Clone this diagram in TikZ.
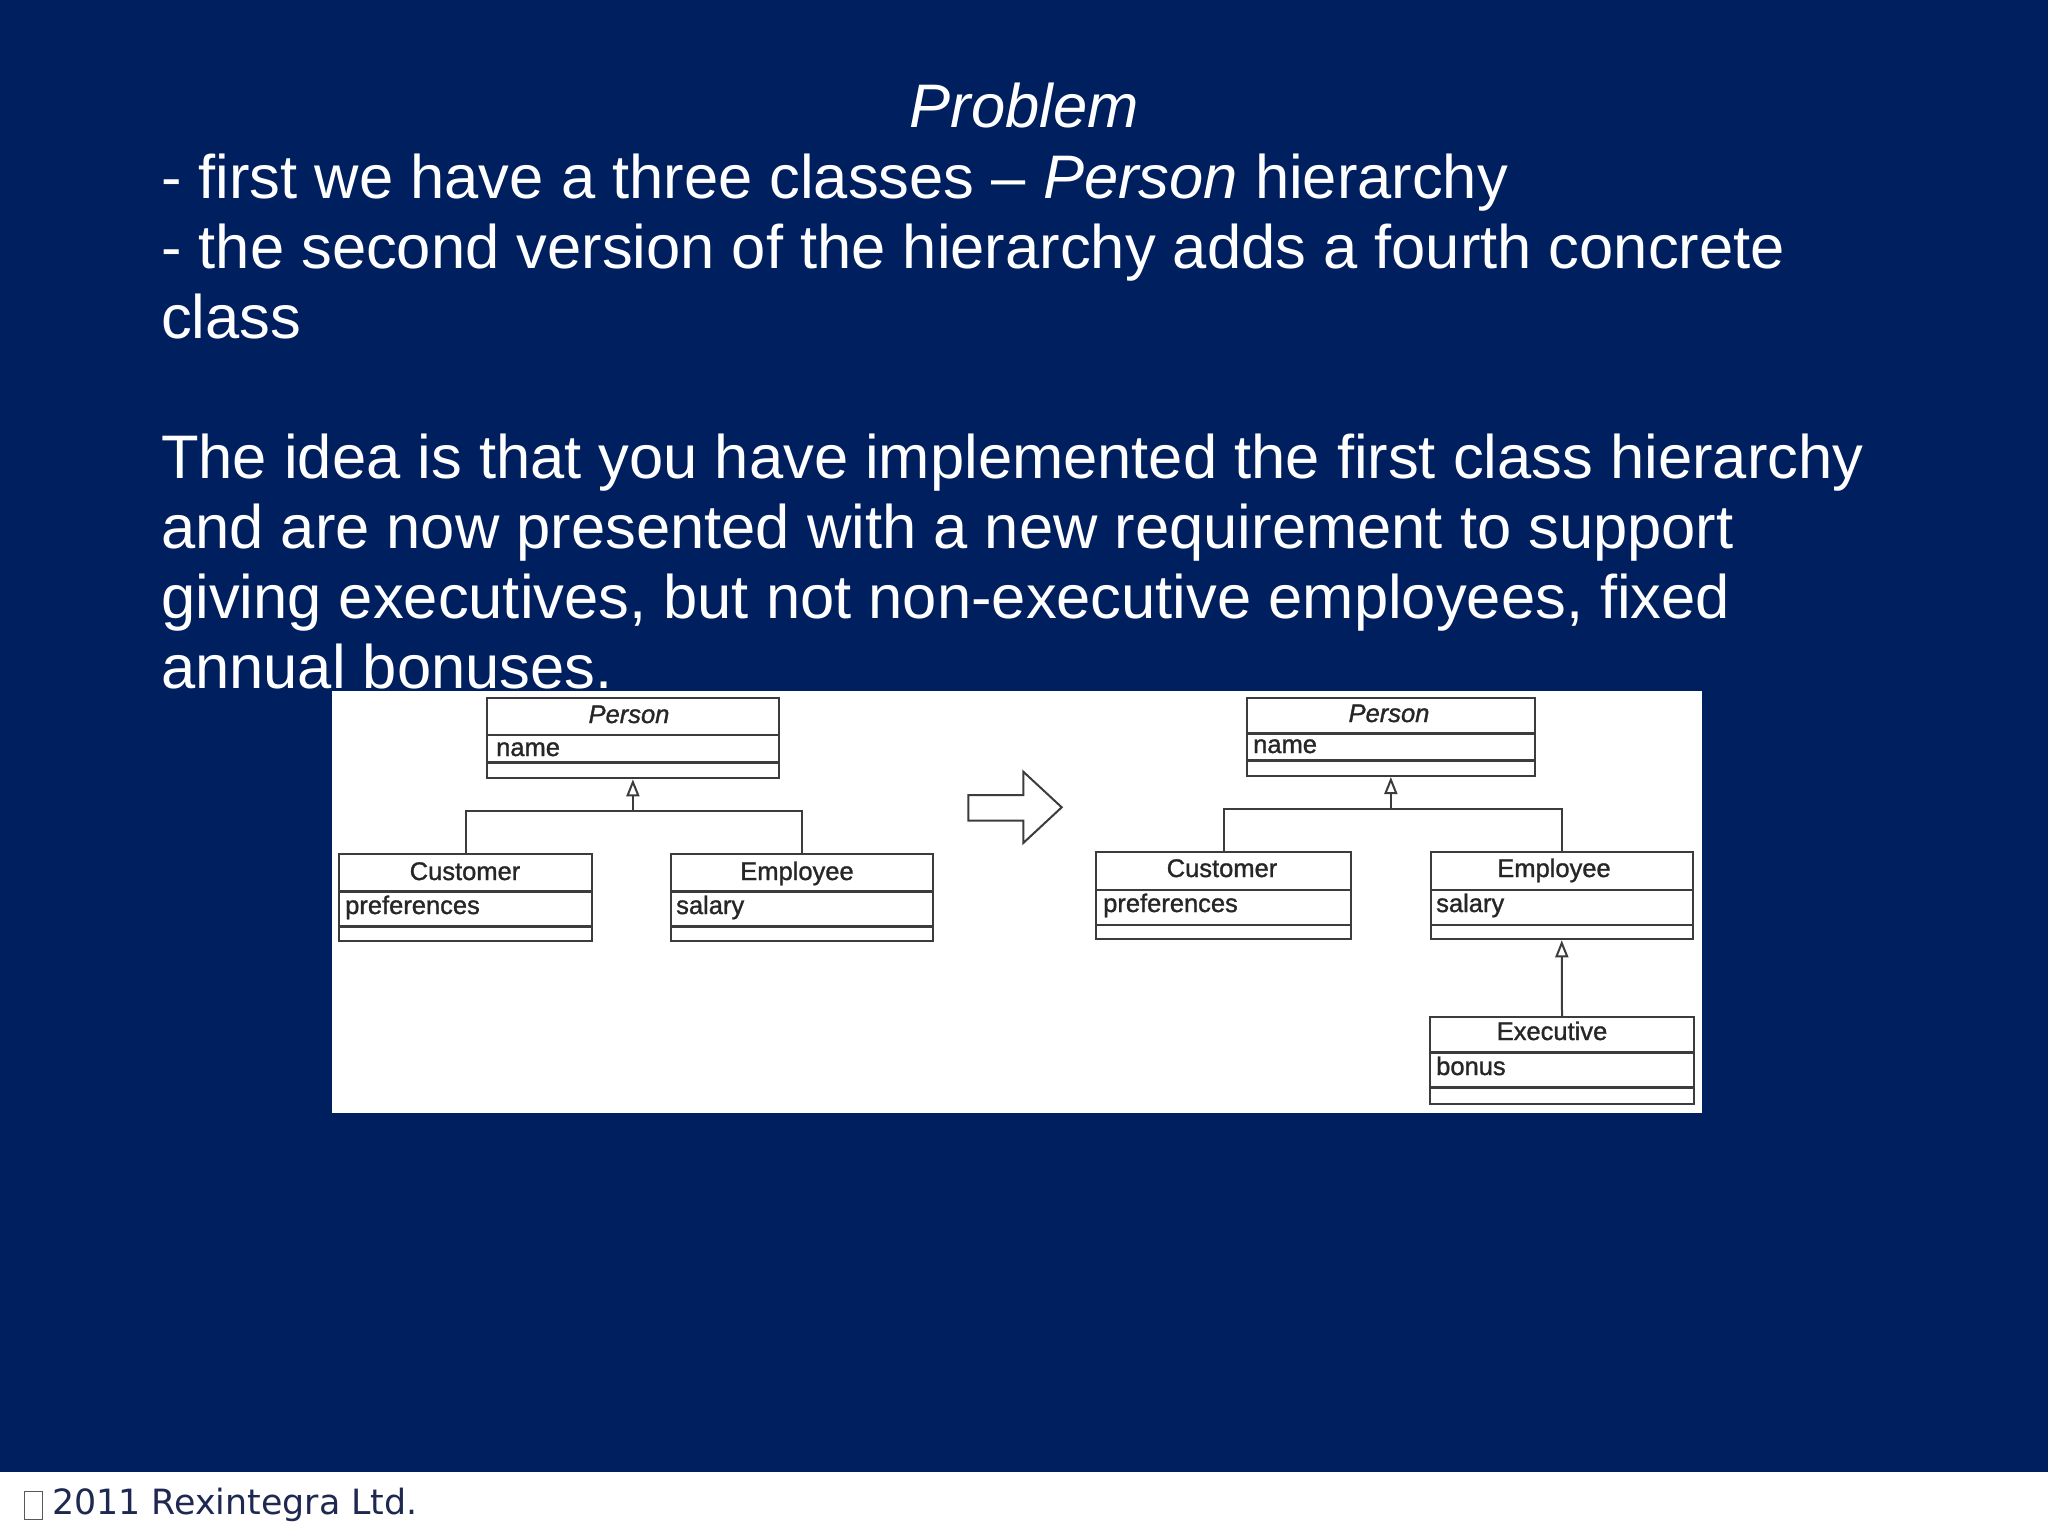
\documentclass[tikz,border=0pt]{standalone}
\usepackage{fontspec}
\setmainfont{Liberation Sans}
\newfontfamily\umlfont[FakeBold=1.2]{Liberation Sans}
\newfontfamily\footfont{DejaVu Sans}
\usetikzlibrary{arrows.meta}
\definecolor{navybg}{RGB}{0,31,94}
\definecolor{umlgray}{RGB}{60,60,60}
\definecolor{foottext}{RGB}{30,40,80}
\tikzset{
  bodytext/.style={text=white, inner sep=0pt, anchor=base west, font=\fontsize{61.5}{70}\selectfont},
  umlbox/.style={draw=umlgray, line width=2pt, fill=white, rectangle, inner sep=0pt, anchor=north west},
  umlsep/.style={draw=umlgray, line width=2.5pt},
  umltitle/.style={inner sep=0pt, anchor=base, text=black!85, font=\umlfont\fontsize{25.5}{30}\selectfont},
  umlattr/.style={inner sep=0pt, anchor=base west, text=black!85, font=\umlfont\fontsize{25.5}{30}\selectfont},
  conn/.style={draw=umlgray, line width=2pt},
  gen/.style={conn, -{Triangle[open, length=17pt, width=13pt]}},
}
\newcommand\umlclass[7]{%
  \node[umlbox, minimum width={#4-#2}, minimum height={#5-#3}] (#1) at (#2,#3) {};
  \draw[umlsep] (#1.west |- 0,#6) -- (#1.east |- 0,#6);
  \draw[umlsep] (#1.west |- 0,#7) -- (#1.east |- 0,#7);
}
\begin{document}
\begin{tikzpicture}[x=1pt,y=-1pt]
\useasboundingbox (0,0) rectangle (2048,1536);
\fill[navybg] (0,0) rectangle (2048,1536);
% footer
\fill[white] (0,1472) rectangle (2048,1536);
\node[draw=gray!70!black, line width=1.5pt, minimum width=18pt, minimum height=28pt, inner sep=0pt, anchor=north west] (tofu) at (23.5,1490.5) {};
\node[inner sep=0pt, anchor=base west, text=foottext, font=\footfont\fontsize{34.8}{40}\selectfont] (foot) at (52,1514) {2011 Rexintegra Ltd.};
% title and text
\node[inner sep=0pt, anchor=base, text=white, font=\fontsize{61.5}{70}\selectfont\itshape] (title) at (1024,128) {Problem};
\node[bodytext] (l1) at (161,198) {- first we have a three classes – \textit{Person} hierarchy};
\node[bodytext] (l2) at (161,268) {- the second version of the hierarchy adds a fourth concrete};
\node[bodytext] (l3) at (161,338) {class};
\node[bodytext] (l4) at (161,478) {The idea is that you have implemented the first class hierarchy};
\node[bodytext] (l5) at (161,548) {and are now presented with a new requirement to support};
\node[bodytext] (l6) at (161,618) {giving executives, but not non-executive employees, fixed};
\node[bodytext] (l7) at (161,688) {annual bonuses.};
% image panel
\fill[white] (332,691) rectangle (1702,1113);
% left diagram
\umlclass{p1}{486.1}{697.3}{777.7}{777.3}{735}{762.7}
\umlclass{c1}{338.3}{852.7}{590.8}{940}{891.7}{926.7}
\umlclass{e1}{669.8}{852.7}{932.4}{940}{891.7}{926.7}
\node[umltitle] (p1t) at (629,723) {\itshape Person};
\node[umlattr] (p1a) at (496,756) {name};
\node[umltitle] (c1t) at (465,880) {Customer};
\node[umlattr] (c1a) at (345,914) {preferences};
\node[umltitle] (e1t) at (797,880) {Employee};
\node[umlattr] (e1a) at (676,914) {salary};
\coordinate (j1) at (p1.south |- 0,810.7);
\draw[conn] (c1.north) |- (j1) -| (e1.north);
\draw[gen] (j1) -- (p1.south);
% transformation arrow
\draw[draw=umlgray, line width=2pt, line join=miter] (968.3,795) -- (1023.3,795) -- (1023.3,771.7) -- (1061.7,807.3) -- (1023.3,843) -- (1023.3,820.7) -- (968.3,820.7) -- cycle;
% right diagram
\umlclass{p2}{1245.7}{697.3}{1534}{775}{733.3}{760.7}
\umlclass{c2}{1095.4}{851}{1349.9}{938.3}{890}{925}
\umlclass{e2}{1429.9}{851}{1691.6}{938.3}{890}{925}
\umlclass{x2}{1429.3}{1016}{1692.7}{1103.3}{1052.7}{1087.7}
\node[umltitle] (p2t) at (1389,722) {\itshape Person};
\node[umlattr] (p2a) at (1253,753) {name};
\node[umltitle] (c2t) at (1222,877) {Customer};
\node[umlattr] (c2a) at (1103,912) {preferences};
\node[umltitle] (e2t) at (1554,877) {Employee};
\node[umlattr] (e2a) at (1436,912) {salary};
\node[umltitle] (x2t) at (1552,1040) {Executive};
\node[umlattr] (x2a) at (1436,1075) {bonus};
\coordinate (j2) at (p2.south |- 0,809.3);
\draw[conn] (c2.north) |- (j2) -| (e2.north);
\draw[gen] (j2) -- (p2.south);
\draw[gen] (x2.north) -- (e2.south);
\end{tikzpicture}
\end{document}
